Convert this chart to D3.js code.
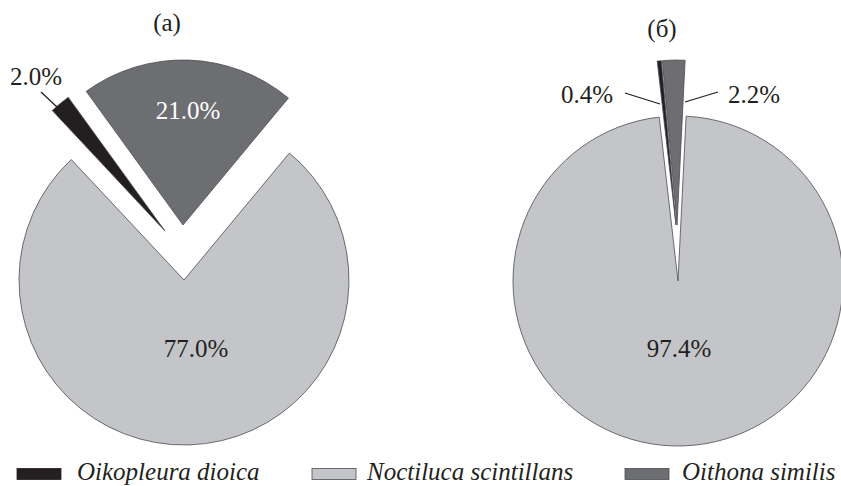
<!DOCTYPE html>
<html>
<head>
<meta charset="utf-8">
<script src="https://cdn.jsdelivr.net/npm/d3@7"></script>
<style>
  html, body { margin: 0; padding: 0; background: #fff; }
  svg { display: block; font-family: "Liberation Serif", "Times New Roman", serif; }
</style>
</head>
<body>
<svg id="chart" width="841" height="486"></svg>
<script>
// Species (legend order) and their shares, %
const species = ["Oikopleura dioica", "Noctiluca scintillans", "Oithona similis"];
const sharesA = [2.0, 77.0, 21.0];
const sharesB = [0.4, 97.4, 2.2];
const panelTitles = ["(а)", "(б)"];

// Styling
const fills = ["#231f20", "#c4c5c9", "#6d6e72"];
const stroke = "#4d4d4f";
const deg = Math.PI / 180;
const labelSize = 25;

const svg = d3.select("#chart");
const radius = 165;

// Panel layout: centre, start angle (slices run counter-clockwise),
// per-slice explode offsets and label placement
const panels = [
  {
    values: sharesA, title: panelTitles[0], titlePos: [167, 31],
    cx: 184, cy: 280, start: -35.9,
    explode: [[-19, -49], [0, 0], [-1, -55]],
    labels: [
      { pos: [10, 85], anchor: "start", color: "#231f20", leader: [[41, 92], [57, 107]] },
      { pos: [196, 357], anchor: "middle", color: "#231f20" },
      { pos: [188, 119], anchor: "middle", color: "#ffffff" }
    ]
  },
  {
    values: sharesB, title: panelTitles[1], titlePos: [662, 37],
    cx: 678, cy: 281, start: -5.1,
    explode: [[-2, -56], [0, 0], [-1, -56]],
    labels: [
      { pos: [613, 103], anchor: "end", color: "#231f20", leader: [[625, 93], [660, 104]] },
      { pos: [679, 357], anchor: "middle", color: "#231f20" },
      { pos: [728, 103], anchor: "start", color: "#231f20", leader: [[685, 102], [718, 92]] }
    ]
  }
];

const arc = d3.arc().innerRadius(0).outerRadius(radius);

panels.forEach(p => {
  const pie = d3.pie()
    .sort(null)
    .value(d => d)
    .startAngle(p.start * deg)
    .endAngle((p.start - 360) * deg);

  const arcs = pie(p.values);
  const g = svg.append("g").attr("transform", `translate(${p.cx},${p.cy})`);

  g.selectAll("path.slice")
    .data(arcs)
    .join("path")
    .attr("class", "slice")
    .attr("d", arc)
    .attr("transform", (d, i) => `translate(${p.explode[i][0]},${p.explode[i][1]})`)
    .attr("fill", (d, i) => fills[i])
    .attr("stroke", stroke)
    .attr("stroke-width", 0.8)
    .attr("stroke-linejoin", "miter");

  // Panel title
  svg.append("text")
    .attr("x", p.titlePos[0])
    .attr("y", p.titlePos[1])
    .attr("text-anchor", "middle")
    .attr("font-size", labelSize)
    .attr("fill", "#231f20")
    .text(p.title);

  // Value labels with leader lines
  p.labels.forEach((lab, i) => {
    if (lab.leader) {
      svg.append("line")
        .attr("x1", lab.leader[0][0]).attr("y1", lab.leader[0][1])
        .attr("x2", lab.leader[1][0]).attr("y2", lab.leader[1][1])
        .attr("stroke", "#231f20")
        .attr("stroke-width", 1.3);
    }
    svg.append("text")
      .attr("x", lab.pos[0])
      .attr("y", lab.pos[1])
      .attr("text-anchor", lab.anchor)
      .attr("font-size", labelSize)
      .attr("fill", lab.color)
      .text(d3.format(".1f")(p.values[i]) + "%");
  });
});

// Legend
const swatchX = [17, 312, 625];
const legendTextX = [77, 367, 682];
const legend = svg.append("g");
species.forEach((name, i) => {
  legend.append("rect")
    .attr("x", swatchX[i])
    .attr("y", 468.5)
    .attr("width", 44)
    .attr("height", 11)
    .attr("fill", fills[i])
    .attr("stroke", i === 0 ? fills[0] : stroke)
    .attr("stroke-width", 0.8);
  legend.append("text")
    .attr("x", legendTextX[i])
    .attr("y", 480)
    .attr("font-size", 25)
    .attr("font-style", "italic")
    .attr("fill", "#231f20")
    .text(name);
});
</script>
</body>
</html>
